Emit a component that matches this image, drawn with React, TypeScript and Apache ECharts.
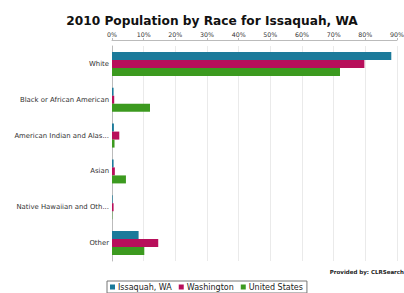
import React, { useEffect, useRef } from "react";
import * as echarts from "echarts";

const categories = [
  "White",
  "Black or African American",
  "American Indian and Alas...",
  "Asian",
  "Native Hawaiian and Oth...",
  "Other",
];
const issaquah = [88.2, 0.5, 0.6, 0.5, 0.2, 8.4];
const washington = [79.7, 0.7, 2.3, 0.9, 0.5, 14.6];
const unitedStates = [72.0, 12.0, 0.8, 4.4, 0.1, 10.2];
const seriesNames = ["Issaquah, WA", "Washington", "United States"];
const colors = ["#1b7a9a", "#b80f5b", "#3c9a1f"];
const xTicks = { min: 0, max: 90, interval: 10 };

export default function App() {
  const ref = useRef<HTMLDivElement>(null);
  useEffect(() => {
    const chart = echarts.init(ref.current!, undefined, { renderer: "svg" });
    const font = "DejaVu Sans";
    chart.setOption({
      animation: false,
      backgroundColor: "#ffffff",
      title: {
        text: "2010 Population by Race for Issaquah, WA",
        left: 207,
        textAlign: "center",
        top: 10,
        textStyle: { fontFamily: font, fontWeight: "bold", fontSize: 12.2, color: "#111" },
      },
      legend: {
        bottom: 0,
        left: 107,
        itemWidth: 5,
        itemHeight: 5,
        itemGap: 7,
        icon: "rect",
        borderColor: "#777",
        borderWidth: 1,
        padding: [2, 4, 2, 3],
        textStyle: { fontFamily: font, fontSize: 8, color: "#222", padding: [0, 0, 0, -2] },
        data: seriesNames,
      },
      graphic: [
        {
          type: "text",
          right: 0,
          top: 269,
          style: {
            text: "Provided by: CLRSearch",
            font: "bold 5.5px DejaVu Sans",
            fill: "#222",
          },
        },
      ],
      grid: { left: 112, right: 7, top: 46, bottom: 32, outerBoundsMode: "none", containLabel: false },
      xAxis: {
        type: "value",
        position: "top",
        offset: 6,
        min: xTicks.min,
        max: xTicks.max,
        interval: xTicks.interval,
        axisLine: { show: true, lineStyle: { color: "#bbb" } },
        axisTick: { show: true, length: 2, lineStyle: { color: "#bbb" } },
        axisLabel: {
          formatter: "{value}%",
          fontFamily: font,
          fontSize: 6.3,
          color: "#333",
          margin: 3,
        },
        splitLine: { show: true, lineStyle: { color: "#eaeaea" } },
      },
      yAxis: {
        type: "category",
        data: categories,
        inverse: true,
        axisLine: { show: true, lineStyle: { color: "#bbb" } },
        axisTick: { show: false },
        axisLabel: { fontFamily: font, fontSize: 6.9, color: "#333", margin: 3 },
      },
      series: [issaquah, washington, unitedStates].map((d, i) => ({
        type: "bar",
        name: seriesNames[i],
        data: d,
        barWidth: 8,
        barGap: "0%",
        itemStyle: { color: colors[i] },
      })),
    });
    return () => chart.dispose();
  }, []);
  return <div ref={ref} style={{ width: 404, height: 293, position: "absolute", left: 0, top: 0 }} />;
}
